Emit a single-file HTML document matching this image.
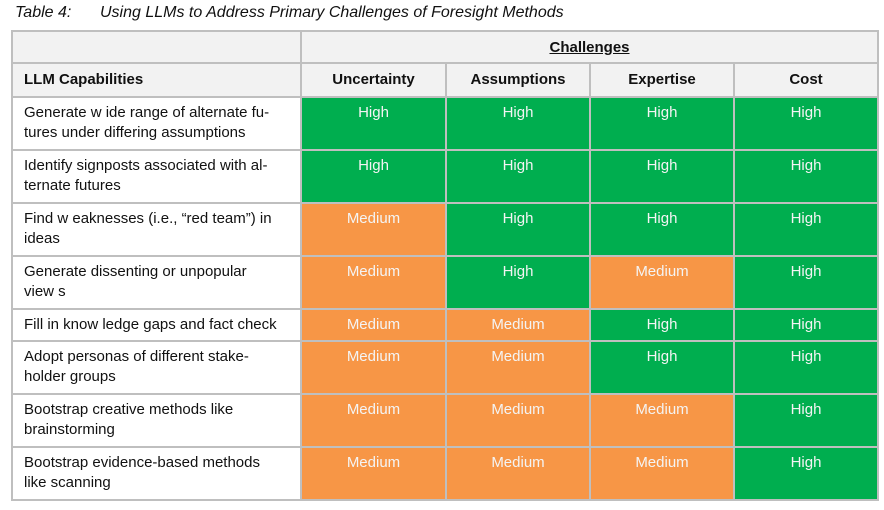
<!DOCTYPE html>
<html><head><meta charset="utf-8"><style>
body{margin:0;width:884px;height:510px;background:#fff;position:relative;font-family:"Liberation Sans",Arial,sans-serif;overflow:hidden}
.t{position:absolute;font-style:italic;font-size:16px;top:4px;color:#111}
.c{position:absolute;box-sizing:border-box;font-size:15px;color:#111;line-height:20px}
.line{position:absolute;background:#bfbfbf}
</style></head><body>
<div class="t" style="left:15px">Table 4:</div>
<div class="t" style="left:100px">Using LLMs to Address Primary Challenges of Foresight Methods</div>
<div id="tbl"></div>
<script>
const columns=["Uncertainty","Assumptions","Expertise","Cost"];
const capabilities=["Generate w ide range of alternate fu-<br>tures under differing assumptions","Identify signposts associated with al-<br>ternate futures","Find w eaknesses (i.e., “red team”) in<br>ideas","Generate dissenting or unpopular<br>view s","Fill  in know ledge gaps and fact check","Adopt personas of different stake-<br>holder groups","Bootstrap creative methods like<br>brainstorming","Bootstrap evidence-based methods<br>like scanning"];
const ratings=[["High","High","High","High"],["High","High","High","High"],["Medium","High","High","High"],["Medium","High","Medium","High"],["Medium","Medium","High","High"],["Medium","Medium","High","High"],["Medium","Medium","Medium","High"],["Medium","Medium","Medium","High"]];
const xs=[12,301,446,590,734,878];
const ys=[31,63,97,150,203,256,309,341,394,447,500];
const T=document.getElementById('tbl');
function cell(x,y,w,h,bg,html,style,name){const d=document.createElement('div');d.className='c';d.style.cssText=`left:${x}px;top:${y}px;width:${w}px;height:${h}px;background:${bg};${style}`;d.innerHTML=html;


T.appendChild(d);}
cell(xs[0],ys[0],xs[5]-xs[0],ys[2]-ys[0],'#f2f2f2','','', 'header-background');
cell(xs[1],ys[0],xs[5]-xs[1],ys[1]-ys[0],'transparent','<u>Challenges</u>','text-align:center;font-weight:bold;padding-top:7px;font-size:15px','challenges-header');
cell(xs[0],ys[1],xs[1]-xs[0],ys[2]-ys[1],'transparent','LLM Capabilities','font-weight:bold;padding:7px 0 0 12px','capabilities-header');
columns.forEach((c,i)=>cell(xs[i+1],ys[1],xs[i+2]-xs[i+1],ys[2]-ys[1],'transparent',c,'text-align:center;font-weight:bold;padding-top:7px','column-header-'+c.toLowerCase()));
capabilities.forEach((cap,r)=>{
 const y=ys[r+2],h=ys[r+3]-y;
 cell(xs[0],y,xs[1]-xs[0],h,'#fff',cap,'padding:6px 0 0 12px','capability-row-'+(r+1));
 ratings[r].forEach((v,i)=>cell(xs[i+1],y,xs[i+2]-xs[i+1],h,v=='High'?'#00ae4f':'#f79646',v,'text-align:center;color:#f4f4f4;padding-top:6px','rating-'+(r+1)+'-'+columns[i].toLowerCase()));
});
xs.forEach((x,i)=>{const l=document.createElement('div');l.className='line';const top=(i>0&&i<5&&i!=1)?ys[1]:ys[0];l.style.cssText=`left:${x-1}px;top:${top-1}px;width:2px;height:${ys[10]-top+2}px`;


T.appendChild(l);});
ys.forEach((y,i)=>{const l=document.createElement('div');l.className='line';const left=i==1?xs[0]:xs[0];l.style.cssText=`left:${left-1}px;top:${y-1}px;width:${xs[5]-left+2}px;height:2px`;


T.appendChild(l);});
</script>
</body></html>
